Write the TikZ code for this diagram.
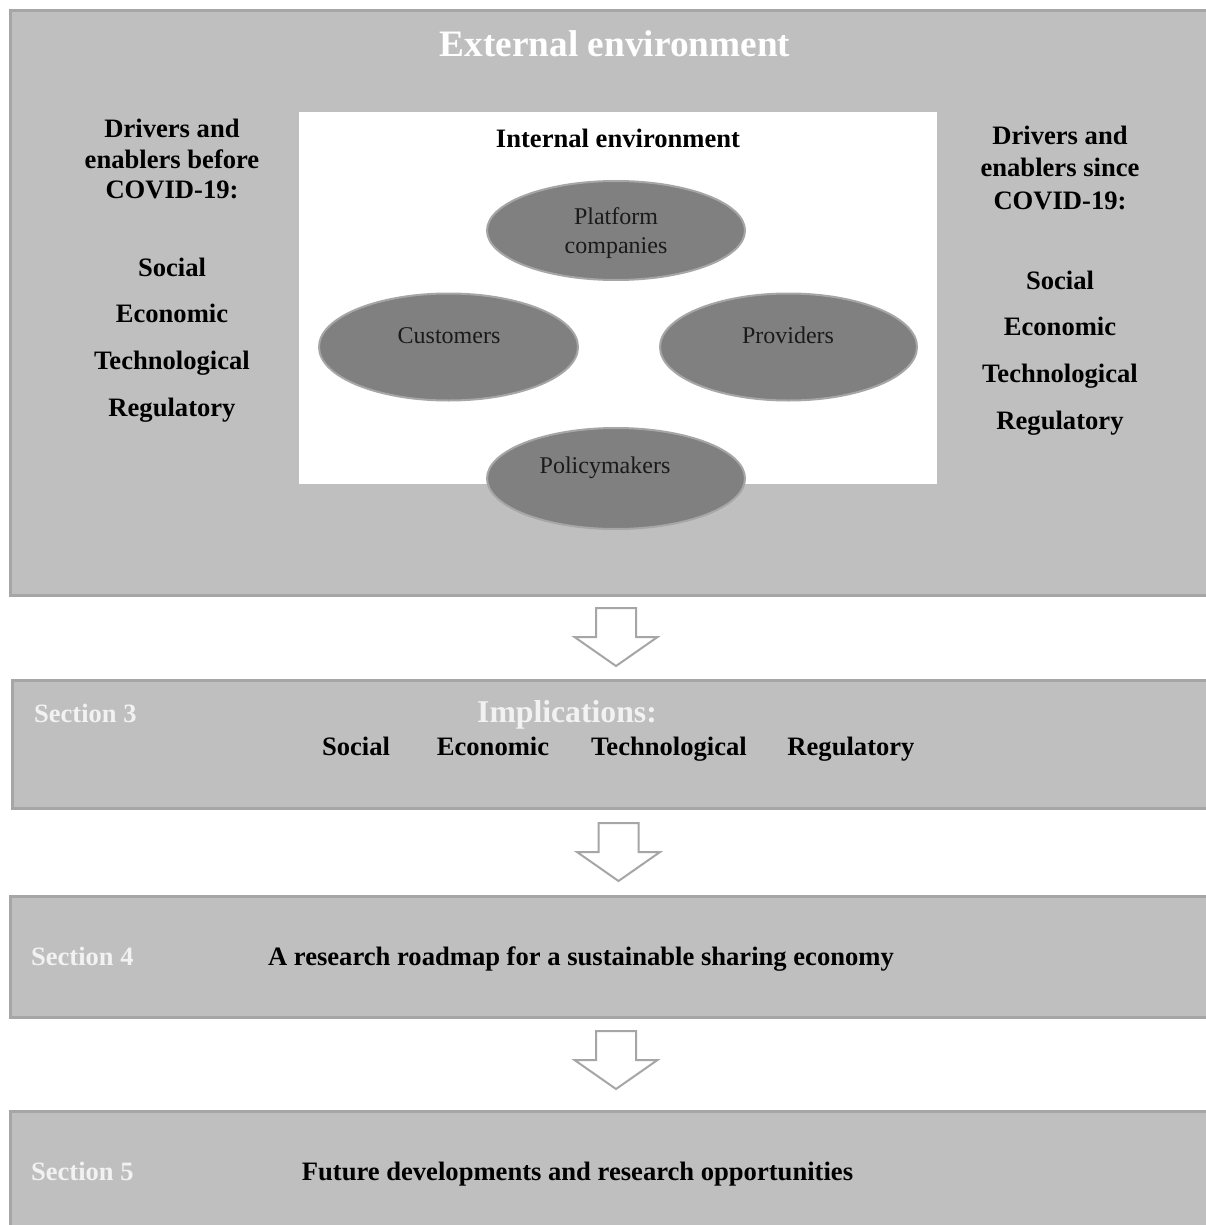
\documentclass[tikz,border=0pt]{standalone}
\usepackage{fontspec}
\setmainfont{Liberation Serif}
\usetikzlibrary{shapes.geometric}
\definecolor{boxfill}{HTML}{BFBFBF}
\definecolor{boxline}{HTML}{A6A6A6}
\definecolor{ellfill}{HTML}{808080}
\definecolor{sectxt}{HTML}{F2F2F2}
\definecolor{ovaltxt}{HTML}{1A1A1A}
\begin{document}
\begin{tikzpicture}[x=1pt,y=-1pt,
  panel/.style={fill=boxfill,draw=boxline,line width=3pt,anchor=north west,inner sep=0pt,outer sep=0pt},
  oval/.style={ellipse,fill=ellfill,draw=boxline,line width=2pt,inner sep=0pt},
  ovaltext/.style={font=\fontsize{24}{29}\selectfont,text=ovaltxt,anchor=base,inner sep=0pt},
  boldtext/.style={font=\fontsize{26.6}{30}\selectfont\bfseries,anchor=base,inner sep=0pt},
  seclabel/.style={font=\fontsize{26.5}{30}\selectfont\bfseries,text=sectxt,anchor=base west,inner sep=0pt},
  downarrow/.style={fill=white,draw=boxline,line width=2pt,line join=miter}]
\useasboundingbox (0,0) rectangle (1206,1225);
\fill[white] (0,0) rectangle (1206,1225);

% panels
\node[panel,minimum width=1210pt,minimum height=584.5pt] (ext) at (10.5,10.5) {};
\node[panel,minimum width=1210pt,minimum height=128pt] (sec3) at (12,680) {};
\node[panel,minimum width=1210pt,minimum height=120.5pt] (sec4) at (10,896.5) {};
\node[panel,minimum width=1210pt,minimum height=150pt] (sec5) at (10,1111.5) {};

% internal environment
\node[fill=white,anchor=north west,minimum width=638pt,minimum height=372pt,inner sep=0pt] (int) at (299,112) {};

\node[font=\fontsize{37.3}{40}\selectfont\bfseries,text=white,anchor=base,inner sep=0pt] (title) at (615,57) {External environment};

% left column
\node[boldtext] (l1) at (172,138) {Drivers and};
\node[boldtext] (l2) at (172,168) {enablers before};
\node[boldtext] (l3) at (172,198) {COVID-19:};
\node[boldtext] (l4) at (172,276) {Social};
\node[boldtext] (l5) at (172,322) {Economic};
\node[boldtext] (l6) at (172,369) {Technological};
\node[boldtext] (l7) at (172,416) {Regulatory};

% right column
\node[boldtext] (r1) at (1060,145) {Drivers and};
\node[boldtext] (r2) at (1060,177) {enablers since};
\node[boldtext] (r3) at (1060,209) {COVID-19:};
\node[boldtext] (r4) at (1060,289) {Social};
\node[boldtext] (r5) at (1060,335) {Economic};
\node[boldtext] (r6) at (1060,382) {Technological};
\node[boldtext] (r7) at (1060,429) {Regulatory};

\node[boldtext] (inttitle) at (618,148) {Internal environment};

% ellipses
\node[oval,minimum width=258pt,minimum height=99pt] (plat) at (616,230.5) {};
\node[oval,minimum width=259pt,minimum height=107pt] (cust) at (448.5,347) {};
\node[oval,minimum width=257pt,minimum height=107pt] (prov) at (788.5,347) {};
\node[oval,minimum width=258pt,minimum height=101pt] (pol) at (616,478.5) {};

\node[ovaltext] (platt1) at (616,224) {Platform};
\node[ovaltext] (platt2) at (616,253) {companies};
\node[ovaltext] (custt) at (449,343) {Customers};
\node[ovaltext] (provt) at (788,343) {Providers};
\node[ovaltext] (polt) at (605,473) {Policymakers};

% arrows
\coordinate (a1) at (616,608);
\coordinate (a2) at (618.5,823);
\coordinate (a3) at (616,1031);
\foreach \a in {a1,a2,a3}{
  \draw[downarrow] ([shift={(-20,0)}]\a) -- ([shift={(20,0)}]\a) -- ([shift={(20,29)}]\a)
    -- ([shift={(41.5,29)}]\a) -- ([shift={(0,58)}]\a) -- ([shift={(-41.5,29)}]\a)
    -- ([shift={(-20,29)}]\a) -- cycle;
}

% section 3
\node[seclabel] (s3) at (34,722) {Section 3};
\node[font=\fontsize{31.7}{34}\selectfont\bfseries,text=sectxt,anchor=base,inner sep=0pt] (impl) at (567,722) {Implications:};
\node[boldtext] (i1) at (356,755) {Social};
\node[boldtext] (i2) at (493,755) {Economic};
\node[boldtext] (i3) at (669,755) {Technological};
\node[boldtext] (i4) at (851,755) {Regulatory};

% section 4
\node[seclabel] (s4) at (31,965) {Section 4};
\node[boldtext] (road) at (581,965) {A research roadmap for a sustainable sharing economy};

% section 5
\node[seclabel] (s5) at (31,1180) {Section 5};
\node[boldtext] (fut) at (577.5,1180) {Future developments and research opportunities};
\end{tikzpicture}
\end{document}
